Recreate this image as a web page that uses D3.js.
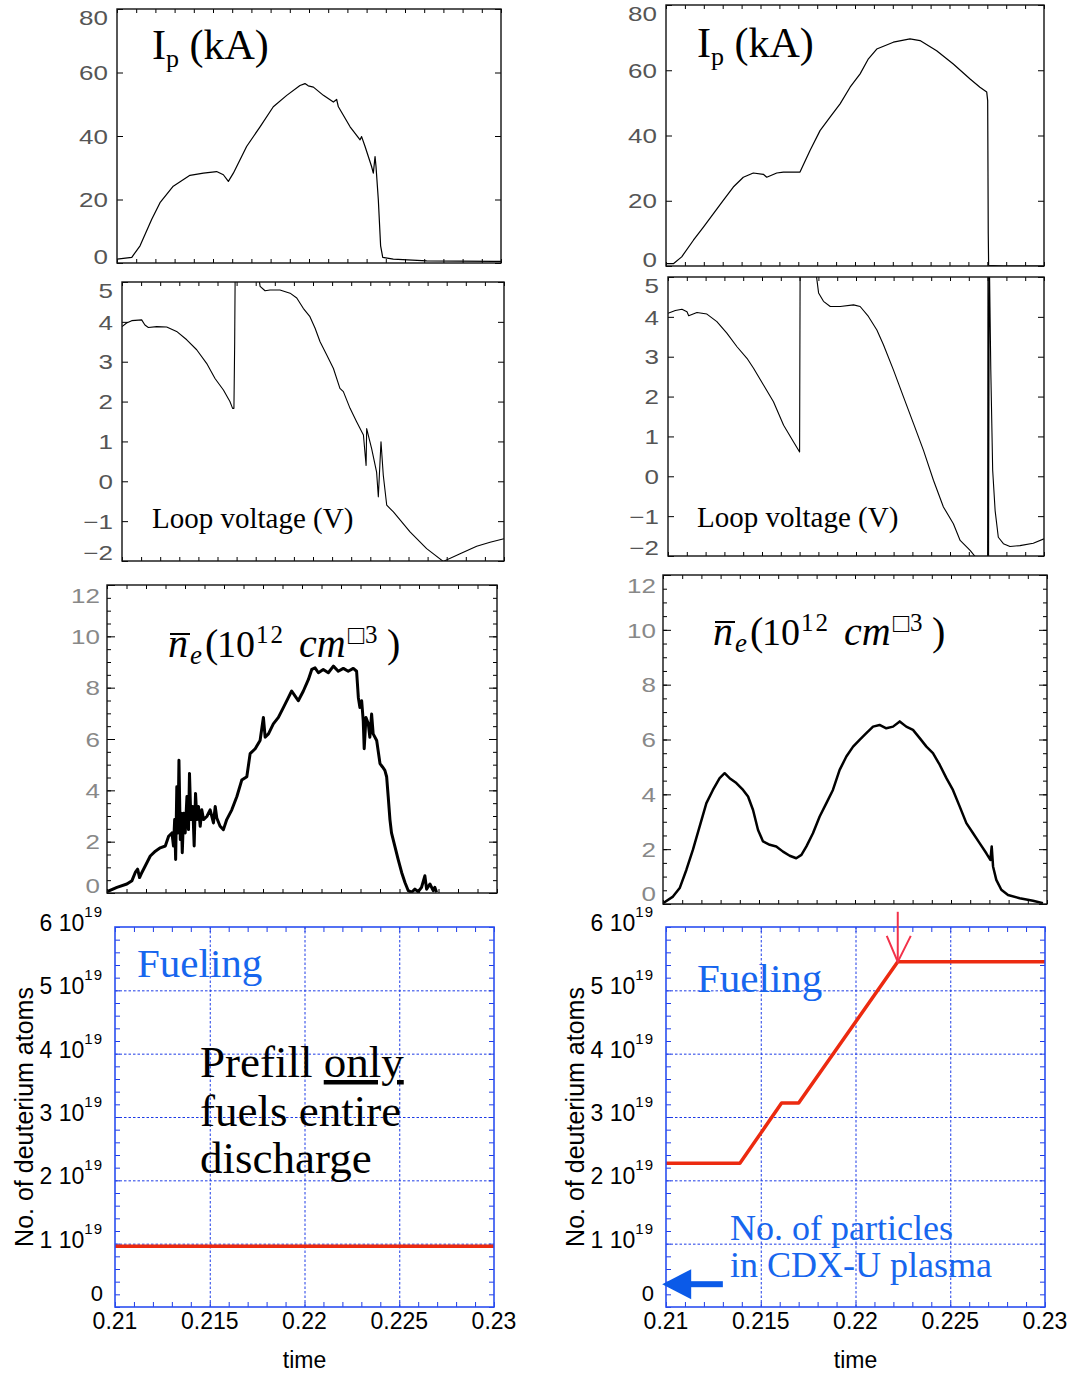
<!DOCTYPE html>
<html><head><meta charset="utf-8">
<script src="https://cdn.jsdelivr.net/npm/d3@7"></script>
<style>html,body{margin:0;padding:0;background:#fff}svg{display:block}</style>
</head><body>
<svg id="chart" width="1076" height="1376"></svg>
<script>
// ---------------- DATA ----------------
const timeDomain = [0.21, 0.23];
const xTickLabels = [0.21, 0.215, 0.22, 0.225, 0.23];

// Plasma current Ip (kA), left shot
const ipLeftTime = [0.21000,0.21077,0.21120,0.21181,0.21224,0.21293,0.21380,0.21450,0.21519,0.21554,0.21580,0.21606,0.21675,0.21745,0.21814,0.21884,0.21953,0.21979,0.21996,0.22023,0.22075,0.22127,0.22144,0.22153,0.22214,0.22266,0.22274,0.22292,0.22326,0.22335,0.22344,0.22349,0.22361,0.22373,0.22384,0.22439,0.22613,0.22960,0.23000];
const ipLeftVal  = [1.2,1.8,5.4,13.8,19.0,24.2,27.6,28.3,28.8,27.8,25.7,28.3,36.7,42.9,49.2,52.8,55.9,56.5,55.8,55.4,52.8,50.7,51.5,49.2,42.9,38.8,39.8,36.7,30.4,28.3,33.5,30.4,20.0,5.4,1.8,1.2,0.7,0.5,0.5];
// Ip (kA), right shot
const ipRightTime = [0.21000,0.21039,0.21083,0.21145,0.21198,0.21250,0.21303,0.21356,0.21409,0.21462,0.21515,0.21533,0.21586,0.21621,0.21709,0.21762,0.21815,0.21868,0.21921,0.21974,0.22027,0.22071,0.22115,0.22203,0.22291,0.22344,0.22432,0.22520,0.22609,0.22661,0.22697,0.22702,0.22705,0.22707,0.22785,0.23000];
const ipRightVal  = [0.7,0.7,2.8,7.9,11.9,16.0,20.1,24.2,27.2,28.5,28.1,27.2,28.5,28.8,28.8,35.4,41.5,45.6,49.7,54.8,58.9,63.5,66.5,68.6,69.6,69.1,66.0,61.9,57.3,54.8,53.3,50.7,10.0,0.2,0.0,0.0];

// Loop voltage (V), left shot
const vLeftTime = [0.21000,0.21024,0.21051,0.21103,0.21120,0.21138,0.21182,0.21234,0.21286,0.21339,0.21391,0.21443,0.21487,0.21531,0.21565,0.21579,0.21586,0.21590,0.21593,0.21702,0.21723,0.21749,0.21775,0.21827,0.21880,0.21915,0.21949,0.21984,0.22011,0.22037,0.22072,0.22107,0.22141,0.22159,0.22194,0.22229,0.22264,0.22278,0.22281,0.22307,0.22333,0.22342,0.22356,0.22368,0.22386,0.22421,0.22508,0.22595,0.22682,0.22770,0.22857,0.22927,0.23000];
const vLeftVal  = [3.88,3.97,4.03,4.05,3.92,3.86,3.88,3.87,3.76,3.55,3.30,2.96,2.58,2.29,2.00,1.83,1.83,3.50,5.6,5.6,4.89,4.78,4.80,4.80,4.72,4.60,4.34,4.13,3.84,3.50,3.17,2.83,2.33,2.25,1.83,1.49,1.16,0.40,1.32,0.82,0.23,-0.39,0.99,0.15,-0.60,-0.77,-1.27,-1.69,-2.01,-1.82,-1.63,-1.53,-1.44];
// Loop voltage (V), right shot
const vRightTime = [0.21000,0.21039,0.21074,0.21101,0.21110,0.21154,0.21207,0.21260,0.21313,0.21367,0.21420,0.21455,0.21508,0.21561,0.21615,0.21668,0.21700,0.21703,0.21774,0.21801,0.21827,0.21863,0.21916,0.21987,0.22022,0.22066,0.22111,0.22146,0.22199,0.22252,0.22306,0.22359,0.22412,0.22465,0.22518,0.22554,0.22607,0.22633,0.22678,0.22700,0.22702,0.22705,0.22709,0.22717,0.22727,0.22740,0.22757,0.22784,0.22819,0.22872,0.22943,0.23000];
const vRightVal  = [4.09,4.16,4.19,4.13,4.03,4.11,4.07,3.88,3.59,3.25,2.96,2.71,2.29,1.87,1.28,0.86,0.61,5.6,5.6,4.60,4.39,4.26,4.26,4.30,4.26,4.01,3.67,3.30,2.67,2.00,1.32,0.65,-0.10,-0.77,-1.19,-1.61,-1.86,-2.01,-2.4,-2.4,5.6,-2.4,5.6,2.67,0.15,-0.86,-1.53,-1.69,-1.76,-1.74,-1.68,-1.57];

// Line-averaged density (1e12 cm^-3), left shot
const neLeftTime = [0.21000,0.21051,0.21102,0.21128,0.21145,0.21157,0.21167,0.21179,0.21196,0.21222,0.21248,0.21273,0.21299,0.21316,0.21333,0.21341,0.21347,0.21352,0.21358,0.21364,0.21369,0.21376,0.21381,0.21386,0.21393,0.21401,0.21410,0.21418,0.21423,0.21430,0.21440,0.21447,0.21454,0.21461,0.21469,0.21478,0.21486,0.21495,0.21512,0.21529,0.21546,0.21555,0.21563,0.21580,0.21597,0.21614,0.21640,0.21666,0.21691,0.21717,0.21734,0.21760,0.21785,0.21802,0.21811,0.21828,0.21853,0.21879,0.21905,0.21930,0.21947,0.21964,0.21981,0.22007,0.22033,0.22050,0.22067,0.22084,0.22109,0.22135,0.22161,0.22186,0.22212,0.22237,0.22263,0.22280,0.22289,0.22297,0.22306,0.22314,0.22319,0.22328,0.22340,0.22348,0.22357,0.22365,0.22383,0.22400,0.22413,0.22425,0.22434,0.22442,0.22451,0.22459,0.22476,0.22493,0.22511,0.22528,0.22545,0.22562,0.22579,0.22596,0.22613,0.22630,0.22639,0.22656,0.22673,0.22681,0.22690];
const neLeftVal  = [0.05,0.22,0.35,0.48,0.80,0.93,0.60,0.80,1.05,1.44,1.63,1.76,1.83,2.21,2.34,1.83,2.86,1.31,4.14,2.34,5.17,2.08,3.11,1.57,3.11,2.34,3.76,2.47,4.66,2.86,3.37,1.83,3.88,2.86,3.37,2.60,3.24,2.86,2.98,3.24,2.73,3.37,2.92,2.60,2.47,2.86,3.24,3.76,4.40,4.53,5.43,5.62,5.94,6.84,6.07,6.20,6.59,6.84,7.23,7.61,7.87,7.68,7.49,7.87,8.32,8.71,8.77,8.58,8.71,8.58,8.84,8.64,8.75,8.64,8.75,8.64,7.61,7.23,7.49,6.71,5.62,6.84,6.59,6.07,6.97,6.20,5.94,5.04,4.91,4.78,4.53,3.76,2.86,2.34,1.83,1.31,0.80,0.41,0.09,0.03,0.15,0.05,0.22,0.67,0.15,0.35,0.09,0.22,0.03];
// Density, right shot
const neRightTime = [0.21000,0.21052,0.21087,0.21122,0.21156,0.21191,0.21226,0.21260,0.21295,0.21321,0.21347,0.21382,0.21417,0.21443,0.21469,0.21495,0.21521,0.21556,0.21590,0.21625,0.21660,0.21694,0.21721,0.21747,0.21781,0.21816,0.21851,0.21885,0.21920,0.21955,0.21990,0.22024,0.22059,0.22094,0.22128,0.22163,0.22198,0.22233,0.22267,0.22302,0.22337,0.22372,0.22406,0.22441,0.22476,0.22510,0.22545,0.22580,0.22615,0.22649,0.22684,0.22705,0.22712,0.22719,0.22736,0.22762,0.22797,0.22858,0.22927,0.22979];
const neRightVal  = [0.03,0.27,0.58,1.25,1.98,2.83,3.68,4.16,4.59,4.77,4.59,4.41,4.16,3.92,3.43,2.70,2.28,2.16,2.10,1.91,1.76,1.67,1.79,2.10,2.58,3.19,3.68,4.16,4.89,5.38,5.74,5.99,6.23,6.47,6.53,6.41,6.47,6.66,6.47,6.35,6.05,5.74,5.50,5.08,4.59,4.16,3.56,2.95,2.58,2.22,1.85,1.61,2.10,1.37,0.88,0.52,0.33,0.21,0.12,0.03];

// Fueling: number of deuterium atoms
const fuelLeftTime = [0.21, 0.23];
const fuelLeftVal  = [0.96e19, 0.96e19];
const fuelRightTime = [0.21, 0.2139, 0.2161, 0.2170, 0.22223, 0.23];
const fuelRightVal  = [2.27e19, 2.27e19, 3.22e19, 3.22e19, 5.45e19, 5.45e19];
const fuelTicks = [0, 1e19, 2e19, 3e19, 4e19, 5e19, 6e19];
const plasmaParticles = 0.36e19;   // level indicated by the blue arrow
const fuelEndTime = 0.22223;       // red arrow: end of gas puff

// ---------------- LAYOUT ----------------
const SANS = "'Liberation Sans', Arial, Helvetica, sans-serif";
const SERIF = "'Liberation Serif', 'Times New Roman', Times, serif";
const BLUE_TXT = "#1766ee";
const svg = d3.select("#chart");
svg.append("rect").attr("width",1076).attr("height",1376).attr("fill","#fff");
const defs = svg.append("defs");
let clipN = 0;
const minorT = d3.range(21).map(i => +(0.21 + i*0.001).toFixed(3));

function frameClip(p){
  const id = "clip" + (clipN++);
  defs.append("clipPath").attr("id", id).append("rect")
    .attr("x", p.x0).attr("y", p.y0).attr("width", p.x1 - p.x0).attr("height", p.y1 - p.y0);
  return id;
}
function noDomain(s){ s.select(".domain").remove(); }

function drawTop(p, yDomain, yTicks, yMinor, times, vals, st){
  const x = d3.scaleLinear().domain(timeDomain).range([p.x0, p.x1]);
  const y = d3.scaleLinear().domain(yDomain).range([p.y1, p.y0]);
  const g = svg.append("g");
  g.append("rect").attr("x",p.x0).attr("y",p.y0).attr("width",p.x1-p.x0).attr("height",p.y1-p.y0).attr("fill","#fff");
  const cid = frameClip(p);
  g.append("g").attr("transform",`translate(0,${p.y1})`)
    .call(d3.axisBottom(x).tickValues(minorT).tickSize(-4).tickFormat("")).call(noDomain);
  g.append("g").attr("transform",`translate(0,${p.y0})`)
    .call(d3.axisTop(x).tickValues(minorT).tickSize(-4).tickFormat("")).call(noDomain);
  if (yMinor){
    g.append("g").attr("transform",`translate(${p.x0},0)`)
      .call(d3.axisLeft(y).tickValues(yMinor).tickSize(-4).tickFormat("")).call(noDomain);
    g.append("g").attr("transform",`translate(${p.x1},0)`)
      .call(d3.axisRight(y).tickValues(yMinor).tickSize(-4).tickFormat("")).call(noDomain);
  }
  const la = g.append("g").attr("transform",`translate(${p.x0},0)`)
    .call(d3.axisLeft(y).tickValues(yTicks).tickSize(-st.major).tickFormat(d3.format("d"))).call(noDomain);
  la.selectAll("text").attr("x",0).attr("dy","0.36em")
    .attr("font-family",SANS).attr("font-size",20).attr("fill",st.lab)
    .attr("transform", d => {
      let off = 0;
      if (d === yDomain[1]) off = st.topOff;
      if (d === yDomain[0]) off = st.botOff;
      return `translate(${-st.gap},${off}) scale(1.3,1)`;
    });
  g.append("g").attr("transform",`translate(${p.x1},0)`)
    .call(d3.axisRight(y).tickValues(yTicks).tickSize(-st.major).tickFormat("")).call(noDomain);
  g.append("path").datum(d3.zip(times, vals))
    .attr("clip-path",`url(#${cid})`)
    .attr("fill","none").attr("stroke","#000").attr("stroke-width",st.lw)
    .attr("stroke-linejoin","round")
    .attr("d", d3.line().x(d => x(d[0])).y(d => y(d[1])));
  g.append("rect").attr("x",p.x0).attr("y",p.y0).attr("width",p.x1-p.x0).attr("height",p.y1-p.y0)
    .attr("fill","none").attr("stroke","#111").attr("stroke-width",1.4);
  return {x, y, g};
}

function drawFuel(p, times, vals){
  const x = d3.scaleLinear().domain(timeDomain).range([p.x0, p.x1]);
  const y = d3.scaleLinear().domain([0, 6e19]).range([p.y1, p.y0]);
  const g = svg.append("g");
  const BL = "#1d3be6";
  g.append("rect").attr("x",p.x0).attr("y",p.y0).attr("width",p.x1-p.x0).attr("height",p.y1-p.y0).attr("fill","#fff");
  g.append("g").attr("transform",`translate(0,${p.y1})`)
    .call(d3.axisBottom(x).tickValues([0.215,0.22,0.225]).tickSize(-(p.y1-p.y0)).tickFormat("")).call(noDomain)
    .selectAll("line").attr("stroke",BL).attr("stroke-dasharray","2.5,2");
  g.append("g").attr("transform",`translate(${p.x0},0)`)
    .call(d3.axisLeft(y).tickValues([1e19,2e19,3e19,4e19,5e19]).tickSize(-(p.x1-p.x0)).tickFormat("")).call(noDomain)
    .selectAll("line").attr("stroke",BL).attr("stroke-dasharray","2.5,2");
  const yMin = d3.range(31).map(i => i*0.2e19);
  [[d3.axisBottom(x).tickValues(minorT), `translate(0,${p.y1})`],
   [d3.axisTop(x).tickValues(minorT), `translate(0,${p.y0})`],
   [d3.axisLeft(y).tickValues(yMin), `translate(${p.x0},0)`],
   [d3.axisRight(y).tickValues(yMin), `translate(${p.x1},0)`]].forEach(([ax, tr]) => {
    g.append("g").attr("transform",tr).call(ax.tickSize(-5).tickFormat("")).call(noDomain)
      .selectAll("line").attr("stroke",BL).attr("stroke-width",1);
  });
  const yl = g.selectAll("text.ylab").data(fuelTicks).join("text").attr("class","ylab")
    .attr("x", p.x0 - 12).attr("y", d => y(d) + (d === 0 ? -6 : 4))
    .attr("text-anchor","end").attr("font-family",SANS).attr("font-size",23).attr("fill","#000");
  yl.each(function(d){
    const t = d3.select(this);
    if (d === 0){ t.append("tspan").attr("font-size",22).text("0"); return; }
    t.append("tspan").text(`${Math.round(d/1e19)} 10`);
    t.append("tspan").attr("font-size",15).attr("dy",-14).attr("letter-spacing",1).text("19");
  });
  g.selectAll("text.xlab").data(xTickLabels).join("text").attr("class","xlab")
    .attr("x", d => x(d)).attr("y", p.y1 + 22).attr("text-anchor","middle")
    .attr("font-family",SANS).attr("font-size",23).attr("fill","#000").text(d => d3.format("")(d));
  const cid = frameClip(p);
  g.append("path").datum(d3.zip(times, vals)).attr("clip-path",`url(#${cid})`)
    .attr("fill","none").attr("stroke","#ec2a10").attr("stroke-width",3.5)
    .attr("stroke-linejoin","round")
    .attr("d", d3.line().x(d => x(d[0])).y(d => y(d[1])));
  g.append("rect").attr("x",p.x0).attr("y",p.y0).attr("width",p.x1-p.x0).attr("height",p.y1-p.y0)
    .attr("fill","none").attr("stroke","#2b4ff0").attr("stroke-width",1.6);
  g.append("text").attr("transform",`translate(${p.x0-82},${(p.y0+p.y1)/2}) rotate(-90)`)
    .attr("text-anchor","middle").attr("font-family",SANS).attr("font-size",25).attr("fill","#000")
    .text("No. of deuterium atoms");
  g.append("text").attr("x",(p.x0+p.x1)/2).attr("y",p.y1+61).attr("text-anchor","middle")
    .attr("font-family",SANS).attr("font-size",23).attr("fill","#000").text("time");
  return {x, y, g};
}

// ---------------- PANELS ----------------
const P = {
  ipL: {x0:117,x1:501,y0:9,y1:263},
  ipR: {x0:666,x1:1044,y0:5,y1:266},
  vL:  {x0:122,x1:504,y0:282,y1:561},
  vR:  {x0:668,x1:1044,y0:277,y1:556},
  nL:  {x0:107,x1:497,y0:585,y1:893},
  nR:  {x0:663,x1:1047,y0:575,y1:904},
  fL:  {x0:115,x1:494,y0:927,y1:1307},
  fR:  {x0:666,x1:1045,y0:927,y1:1307}
};
const stIp = {major:6, gap:9, lab:"#555", topOff:8, botOff:-7, lw:1.2};
const stV  = {major:6, gap:9, lab:"#555", topOff:8, botOff:-9, lw:1.1};
const stN  = {major:8, gap:7, lab:"#888", topOff:10, botOff:-8, lw:3.0};

const fL = drawFuel(P.fL, fuelLeftTime, fuelLeftVal);
const fR = drawFuel(P.fR, fuelRightTime, fuelRightVal);

drawTop(P.ipL, [0,80], [0,20,40,60,80], null, ipLeftTime, ipLeftVal, stIp);
drawTop(P.ipR, [0,80], [0,20,40,60,80], null, ipRightTime, ipRightVal, stIp);
drawTop(P.vL, [-2,5], d3.range(-2,6), null, vLeftTime, vLeftVal, stV);
drawTop(P.vR, [-2,5], d3.range(-2,6), null, vRightTime, vRightVal, stV);
const minorN = d3.range(0, 12.01, 0.5);
drawTop(P.nL, [0,12], [0,2,4,6,8,10,12], minorN, neLeftTime, neLeftVal, stN);
drawTop(P.nR, [0,12], [0,2,4,6,8,10,12], minorN, neRightTime, neRightVal, {...stN, botOff:-11, lw:2.5});

// ---------------- LABELS ----------------
function ipLabel(x, yb){
  const t = svg.append("text").attr("x",x).attr("y",yb).attr("font-family",SERIF).attr("font-size",42).attr("fill","#000");
  t.append("tspan").text("I");
  t.append("tspan").attr("font-size",26).attr("dy",8).text("p");
  t.append("tspan").attr("dy",-8).text(" (kA)");
}
ipLabel(152, 59); ipLabel(697, 57);

function loopLabel(x, yb){
  svg.append("text").attr("x",x).attr("y",yb).attr("font-family",SERIF).attr("font-size",29).attr("fill","#000").text("Loop voltage (V)");
}
loopLabel(152, 528); loopLabel(697, 527);

function neLabel(x, B){
  const t = svg.append("text").attr("font-family",SERIF).attr("fill","#000");
  t.append("tspan").attr("x",x).attr("y",B).attr("font-size",40).attr("font-style","italic").text("n");
  t.append("tspan").attr("x",x+22).attr("y",B+7).attr("font-size",27).attr("font-style","italic").text("e");
  t.append("tspan").attr("x",x+37).attr("y",B).attr("font-size",40).text("(");
  t.append("tspan").attr("x",x+49).attr("y",B).attr("font-size",38).text("10");
  t.append("tspan").attr("x",x+88).attr("y",B-14).attr("font-size",25).attr("letter-spacing",2).text("12");
  t.append("tspan").attr("x",x+131).attr("y",B).attr("font-size",40).attr("font-style","italic").text("cm");
  t.append("tspan").attr("x",x+180).attr("y",B-13).attr("font-size",27).text("\u25A1");
  t.append("tspan").attr("x",x+197).attr("y",B-14).attr("font-size",25).text("3");
  t.append("tspan").attr("x",x+219).attr("y",B).attr("font-size",40).text(")");
  svg.append("line").attr("x1",x+2).attr("x2",x+22).attr("y1",B-23).attr("y2",B-23)
    .attr("stroke","#000").attr("stroke-width",2);
}
neLabel(168, 657); neLabel(713, 645);

function fuelingLabel(x, yb){
  svg.append("text").attr("x",x).attr("y",yb).attr("font-family",SERIF).attr("font-size",41).attr("fill",BLUE_TXT).text("Fueling");
}
fuelingLabel(137, 977); fuelingLabel(697, 992);

const pf = svg.append("text").attr("font-family",SERIF).attr("font-size",45).attr("fill","#000");
pf.append("tspan").attr("x",200).attr("y",1077).text("Prefill ");
pf.append("tspan").attr("text-decoration","underline").text("only");
pf.append("tspan").attr("x",200).attr("y",1126).text("fuels entire");
pf.append("tspan").attr("x",200).attr("y",1173).text("discharge");

const np = svg.append("text").attr("font-family",SERIF).attr("font-size",36).attr("fill",BLUE_TXT);
np.append("tspan").attr("x",730).attr("y",1240).text("No. of particles");
np.append("tspan").attr("x",730).attr("y",1277).text("in CDX-U plasma");

{
  const tipX = fR.x(0.2098), tailX = fR.x(0.2130), yy = fR.y(plasmaParticles);
  svg.append("rect").attr("x",tipX+27).attr("y",yy-3).attr("width",tailX-tipX-27).attr("height",6).attr("fill","#0b5ae8");
  svg.append("path").attr("d",`M${tipX},${yy} L${tipX+29},${yy-15} L${tipX+29},${yy+15} Z`).attr("fill","#0b5ae8");
}
{
  const xx = fR.x(fuelEndTime), yTip = fR.y(5.45e19), yTop = fR.y(6.24e19);
  const ar = svg.append("g").attr("stroke","#f2324a").attr("stroke-width",2).attr("fill","none");
  ar.append("line").attr("x1",xx).attr("x2",xx).attr("y1",yTop).attr("y2",yTip);
  ar.append("path").attr("d",`M${xx-11},${yTip-26} L${xx},${yTip} L${xx+13},${yTip-26}`);
}
</script>
</body></html>
